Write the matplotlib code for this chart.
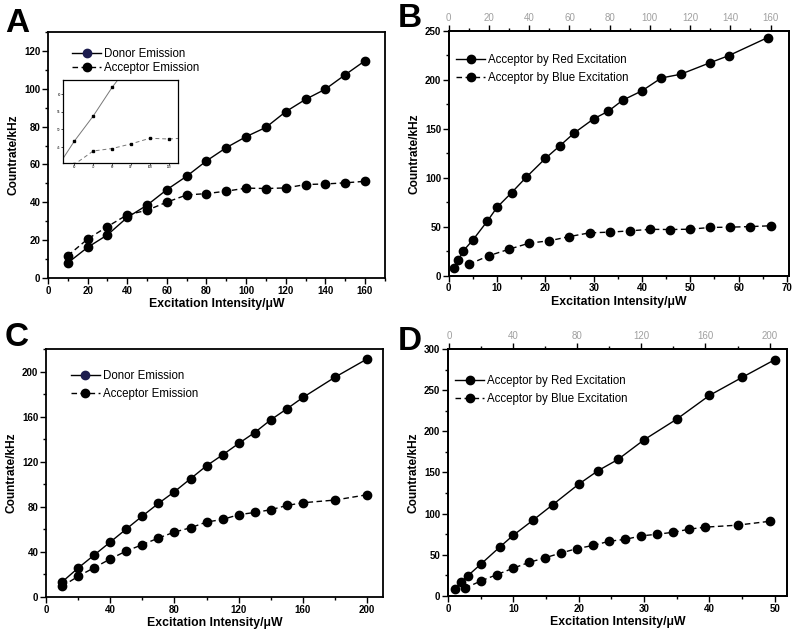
import numpy as np
import matplotlib
matplotlib.use("Agg")
import matplotlib.pyplot as plt
from matplotlib.ticker import MultipleLocator

plt.rcParams['font.family'] = ['Liberation Sans', 'DejaVu Sans']

# Panel A / B(blue): donor and acceptor emission, blue excitation
x_a = [10, 20, 30, 40, 50, 60, 70, 80, 90, 100, 110, 120, 130, 140, 150, 160]
donor_a = [8, 16.2, 22.8, 32, 38.5, 46.7, 53.8, 61.9, 68.9, 74.7, 79.6, 87.9, 94.4, 99.8, 107.4, 114.8]
acceptor_a = [11.8, 20.6, 27.2, 33.4, 35.8, 40.1, 43.9, 44.6, 45.9, 47.5, 47.3, 47.6, 49.4, 49.7, 50.3, 51.1]

# Panel B: acceptor by red excitation
x_b_red = [1, 2, 3, 5, 8, 10, 13, 16, 20, 23, 26, 30, 33, 36, 40, 44, 48, 54, 58, 66]
red_b = [8.5, 16.3, 25.5, 36.7, 56, 70, 84.9, 100.5, 119.9, 132.8, 146, 160.3, 168, 179.3,
         188.9, 202, 205.8, 217.4, 224.9, 243.2]

# Panel C / D(blue)
x_c = [10, 20, 30, 40, 50, 60, 70, 80, 90, 100, 110, 120, 130, 140, 150, 160, 180, 200]
donor_c = [13.3, 25.7, 37.2, 48.7, 60.3, 71.8, 83, 93.4, 104.9, 116.4, 126.1, 136.2, 145.9,
           157.2, 166.9, 177, 195, 211.2]
acceptor_c = [9.5, 18.3, 26, 33.7, 40.8, 46.4, 52.3, 57.6, 61.4, 66.5, 68.8, 73, 75, 77.4,
              81.2, 83.6, 86, 90.7]

# Panel D: acceptor by red excitation
x_d_red = [1, 2, 3, 5, 8, 10, 13, 16, 20, 23, 26, 30, 35, 40, 45, 50]
red_d = [8.1, 16.6, 24.3, 38.5, 60, 73.8, 92, 110.7, 135.8, 152.4, 165.8, 189.7, 214.8, 243.6,
         265.5, 287]

XLABEL = "Excitation Intensity/\u03bcW"
YLABEL = "Countrate/kHz"
MS = 6
DASH = (0, (4, 2.5))
LEGFONT = 8.3


def style_axis(ax, xmaj, xmin, ymaj, ymin):
    ax.xaxis.set_major_locator(MultipleLocator(xmaj))
    ax.xaxis.set_minor_locator(MultipleLocator(xmin))
    ax.yaxis.set_major_locator(MultipleLocator(ymaj))
    ax.yaxis.set_minor_locator(MultipleLocator(ymin))
    ax.tick_params(which='both', direction='out', width=1.0, top=False, right=False)
    ax.tick_params(which='major', length=4, labelsize=7, pad=1.5)
    ax.tick_params(which='minor', length=2.5)
    for lab in ax.get_xticklabels() + ax.get_yticklabels():
        lab.set_fontweight('bold')
    for sp in ax.spines.values():
        sp.set_linewidth(1.3)
    ax.set_xlabel(XLABEL, fontsize=8.8, fontweight='bold', labelpad=2)
    ax.set_ylabel(YLABEL, fontsize=8.6, fontweight='bold', labelpad=3)


def add_top(ax, xlim, maj, mnr):
    top = ax.twiny()
    top.set_xlim(*xlim)
    top.xaxis.set_major_locator(MultipleLocator(maj))
    top.xaxis.set_minor_locator(MultipleLocator(mnr))
    top.tick_params(which='both', direction='out', width=1.0, colors='black',
                    labelcolor='#a0a0a0')
    top.tick_params(which='major', length=4, labelsize=7, pad=1.5)
    top.tick_params(which='minor', length=2.5)
    for sp in top.spines.values():
        sp.set_linewidth(1.3)
    return top


def handles(first_color='black'):
    return [plt.Line2D([], [], color='black', lw=1.0, marker='o', ms=MS,
                       mfc=first_color, mec=first_color),
            plt.Line2D([], [], color='black', lw=1.0, linestyle=DASH, marker='o', ms=MS)]


fig = plt.figure(figsize=(8, 6.4), dpi=100)

# ---- Panel A
axA = fig.add_axes([0.060, 0.5656, 0.421, 0.3844])
axA.plot(x_a, donor_a, '-', color='black', lw=1.0, marker='o', ms=MS)
axA.plot(x_a, acceptor_a, linestyle=DASH, color='black', lw=1.0, marker='o', ms=MS)
axA.set_xlim(0, 170)
axA.set_ylim(0, 130)
style_axis(axA, 20, 10, 20, 10)
axA.legend(handles('#1c1c4e'), ["Donor Emission", "Acceptor Emission"], loc='upper left',
           bbox_to_anchor=(0.055, 0.96), frameon=False, fontsize=LEGFONT,
           handlelength=2.5, handletextpad=0.25, labelspacing=0.2, borderpad=0)

# inset
axI = fig.add_axes([0.0788, 0.7453, 0.1438, 0.1297])
axI.plot(x_a, donor_a, '-', color='#777777', lw=0.7, marker='s', ms=1.8,
         mfc='black', mec='black')
axI.plot(x_a, acceptor_a, linestyle=(0, (4, 3)), color='#777777', lw=0.7, marker='s',
         ms=1.8, mfc='black', mec='black')
axI.set_xlim(54, 115)
axI.set_ylim(40.5, 64)
axI.xaxis.set_major_locator(MultipleLocator(10))
axI.yaxis.set_major_locator(MultipleLocator(5))
axI.tick_params(direction='out', length=1.2, width=0.5, labelsize=2.2, pad=0.5)
for sp in axI.spines.values():
    sp.set_linewidth(0.9)

# ---- Panel B
axB = fig.add_axes([0.561, 0.569, 0.425, 0.3826])
axB.plot(x_b_red, red_b, '-', color='black', lw=1.0, marker='o', ms=MS)
axB.set_xlim(0, 70.4)
axB.set_ylim(0, 250)
style_axis(axB, 10, 5, 50, 25)
topB = add_top(axB, (0, 169.1), 20, 10)
topB.plot(x_a, acceptor_a, linestyle=DASH, color='black', lw=1.0, marker='o', ms=MS)
topB.set_ylim(0, 250)
topB.legend(handles(), ["Acceptor by Red Excitation", "Acceptor by Blue Excitation"],
            loc='upper left', bbox_to_anchor=(0.005, 0.93), frameon=False, fontsize=LEGFONT,
            handlelength=2.5, handletextpad=0.25, labelspacing=0.5, borderpad=0)

# ---- Panel C
axC = fig.add_axes([0.0575, 0.0672, 0.4215, 0.3875])
axC.plot(x_c, donor_c, '-', color='black', lw=1.0, marker='o', ms=MS)
axC.plot(x_c, acceptor_c, linestyle=DASH, color='black', lw=1.0, marker='o', ms=MS)
axC.set_xlim(0, 210)
axC.set_ylim(0, 220)
style_axis(axC, 40, 20, 40, 20)
axC.legend(handles('#1c1c4e'), ["Donor Emission", "Acceptor Emission"], loc='upper left',
           bbox_to_anchor=(0.057, 0.937), frameon=False, fontsize=LEGFONT,
           handlelength=2.5, handletextpad=0.25, labelspacing=0.45, borderpad=0)

# ---- Panel D
axD = fig.add_axes([0.560, 0.0688, 0.424, 0.3859])
axD.plot(x_d_red, red_d, '-', color='black', lw=1.0, marker='o', ms=MS)
axD.set_xlim(0, 51.9)
axD.set_ylim(0, 300)
style_axis(axD, 10, 5, 50, 25)
topD = add_top(axD, (-0.6, 211), 40, 20)
topD.plot(x_c, acceptor_c, linestyle=DASH, color='black', lw=1.0, marker='o', ms=MS)
topD.set_ylim(0, 300)
topD.legend(handles(), ["Acceptor by Red Excitation", "Acceptor by Blue Excitation"],
            loc='upper left', bbox_to_anchor=(0.005, 0.918), frameon=False, fontsize=LEGFONT,
            handlelength=2.5, handletextpad=0.25, labelspacing=0.5, borderpad=0)

# panel letters (baseline positions)
for lbl, x, y in [("A", 0.007, 1 - 32 / 640), ("B", 0.497, 1 - 27 / 640),
                  ("C", 0.006, 1 - 346 / 640), ("D", 0.497, 1 - 350 / 640)]:
    fig.text(x, y, lbl, fontsize=24, fontweight='bold', va='baseline', ha='left')

fig.savefig("out.png", dpi=100)
